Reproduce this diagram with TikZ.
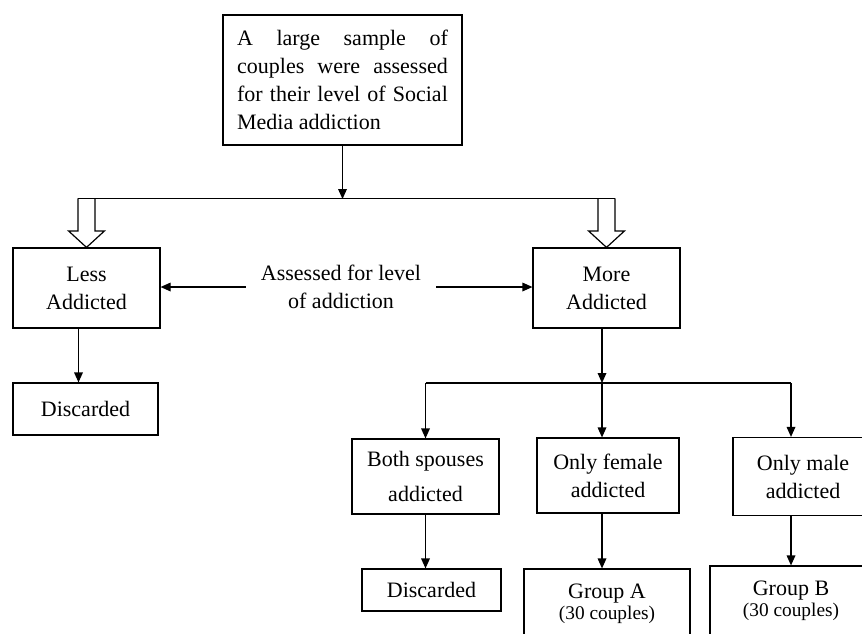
\documentclass[tikz,border=0pt]{standalone}
\usepackage{fontspec}
\setmainfont{Liberation Serif}
\usetikzlibrary{arrows.meta,calc}

\begin{document}
\begin{tikzpicture}[x=0.75pt,y=-0.75pt,line width=0.9pt,
  box/.style={draw,align=center,inner sep=0pt,font=\fontsize{16.5}{21}\selectfont},
  arr/.style={-{Triangle[length=7.5pt,width=6.5pt]}},
  hollowdown/.pic={\draw (-8.5,-49) -- (-8.5,-16.5) -- (-18,-16.5) -- (0,0) -- (18,-16.5) -- (8.5,-16.5) -- (8.5,-49);}]
\useasboundingbox (0,0) rectangle (862,633);
\clip (0,0) rectangle (862,633);
\node[box,align=justify,text width=158pt,minimum width=179.25pt,minimum height=97.5pt] (sample) at (342.5,80)
  {\tolerance=10000 \hbadness=10000 A large sample of\linebreak couples were assessed\linebreak for their level of Social\linebreak Media addiction};
\node[box,minimum width=110.25pt,minimum height=60pt] (less) at (86.5,288) {Less\\Addicted};
\node[box,minimum width=110.25pt,minimum height=60pt] (more) at (606.5,288) {More\\Addicted};
\node[font=\fontsize{16.5}{21}\selectfont,align=center,inner xsep=11pt,inner ysep=0pt] (assess) at (341,287) {Assessed for level\\of addiction};
\node[box,minimum width=108.75pt,minimum height=39pt] (drop1) at (85.5,409) {Discarded};
\node[box,minimum width=110.25pt,minimum height=56.25pt] (both) at (425.5,476.5) {Both spouses\\[5pt]addicted};
\node[box,minimum width=106.5pt,minimum height=56.25pt] (female) at (608,475.5) {Only female\\addicted};
\node[box,minimum width=105pt,minimum height=58.5pt] (male) at (803,476.5) {Only male\\addicted};
\node[box,minimum width=104.25pt,minimum height=31.5pt] (drop2) at (431.5,590) {Discarded};
\node[box,minimum width=124.5pt,minimum height=52.5pt] (groupA) at (607,604) {Group A\\[-5pt]{\fontsize{14.5}{16}\selectfont (30 couples)}};
\node[box,minimum width=121.5pt,minimum height=52.5pt] (groupB) at (791,601) {Group B\\[-5pt]{\fontsize{14.5}{16}\selectfont (30 couples)}};
\coordinate (bus) at (342,199);
\coordinate (split) at (602,383);
\coordinate (right) at (split -| groupB.north);
\draw[arr] (sample.south) -- (sample.south |- bus);
\draw ($(less.north)+(-8.5,-49)$) -- ($(more.north)+(8.5,-49)$);
\pic at (less.north) {hollowdown};
\pic at (more.north) {hollowdown};
\draw[arr] (assess.west) -- (assess.west -| less.east);
\draw[arr] (assess.east) -- (assess.east -| more.west);
\draw[arr] ([xshift=-6pt]less.south) -- ([xshift=-6pt]less.south |- drop1.north);
\draw[arr] (more.south -| split) -- (split);
\draw (split -| both.north) -- (right);
\draw[arr] (split -| both.north) -- (both.north);
\draw[arr] (split) -- (split |- female.north);
\draw[arr] (right) -- (right |- male.north);
\draw[arr] (both.south) -- (both.south |- drop2.north);
\draw[arr] (split |- female.south) -- (split |- groupA.north);
\draw[arr] (right |- male.south) -- (right |- groupB.north);
\end{tikzpicture}
\end{document}
